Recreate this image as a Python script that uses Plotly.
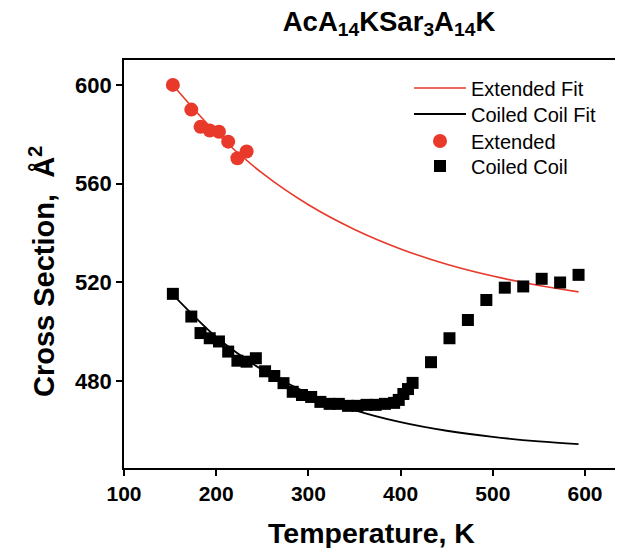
import plotly.graph_objects as go

# Extended (red circles)
ext_T = [153, 173, 183, 193, 203, 213, 223, 233]
ext_CS = [600.0, 590.0, 583.0, 581.5, 581.0, 577.0, 570.3, 573.0]

# Coiled coil (black squares)
cc_T = [153, 173, 183, 193, 203, 213, 223, 233, 243, 253, 263, 273, 283,
        293, 303, 313, 323, 333, 343, 353, 363, 373, 383, 393, 398, 403, 408, 413,
        433, 453, 473, 493, 513, 533, 553, 573, 593]
cc_CS = [515.3, 506.1, 499.4, 497.3, 496.0, 491.9, 488.2, 487.8, 489.2, 483.9, 482.0, 479.1, 475.6,
         474.3, 473.5, 471.5, 470.7, 470.7, 469.9, 469.9, 470.3, 470.3, 470.7, 471.1, 472.3, 474.7, 476.7, 479.2,
         487.6, 497.3, 504.7, 512.8, 517.8, 518.3, 521.4, 519.9, 523.0]

# Fit curves
ext_fit_T = [153, 200, 250, 300, 350, 400, 450, 500, 550, 593]
ext_fit_CS = [600.0, 580.6, 564.2, 551.4, 541.4, 533.5, 527.3, 522.5, 518.7, 516.1]
cc_fit_T = [153, 200, 233, 250, 300, 350, 400, 450, 500, 550, 593]
cc_fit_CS = [515.0, 497.8, 488.6, 484.5, 475.0, 468.2, 463.3, 459.8, 457.3, 455.5, 454.4]

x_ticks = [100, 200, 300, 400, 500, 600]
y_ticks = [480, 520, 560, 600]

RED = "#e8392b"
FONT = "Liberation Sans, Arial, sans-serif"

# page body has an 8px margin: work in figure coordinates (screen - 8)
L, T, B = 116, 52, 460
W, H = 623, 548
PW, PH = W - L, B - T

fig = go.Figure()
fig.add_trace(go.Scatter(x=ext_fit_T, y=ext_fit_CS, mode="lines", name="Extended Fit",
                         line=dict(color=RED, width=1.6, shape="spline"), legend="legend"))
fig.add_trace(go.Scatter(x=cc_fit_T, y=cc_fit_CS, mode="lines", name="Coiled Coil Fit",
                         line=dict(color="black", width=1.8, shape="spline"), legend="legend2"))
fig.add_trace(go.Scatter(x=ext_T, y=ext_CS, mode="markers", name="Extended",
                         marker=dict(color=RED, size=14, symbol="circle"), legend="legend3"))
fig.add_trace(go.Scatter(x=cc_T, y=cc_CS, mode="markers", name="Coiled Coil",
                         marker=dict(color="black", size=12, symbol="square"), legend="legend4"))

row_y = [80, 106, 133, 158]  # legend row centres (figure px)


def leg(yc):
    return dict(x=(401 - L) / PW, y=1 - (yc - T) / PH, xanchor="left", yanchor="middle",
                font=dict(size=20, family=FONT, color="black"),
                bgcolor="rgba(0,0,0,0)", itemwidth=52)


fig.update_layout(
    width=W, height=H,
    margin=dict(l=L, r=0, t=T, b=H - B, autoexpand=False),
    paper_bgcolor="white", plot_bgcolor="white",
    font=dict(family=FONT, color="black"),
    title=dict(text="<b>AcA<sub>14</sub>KSar<sub>3</sub>A<sub>14</sub>K</b>",
               x=381/W, xanchor="center", y=1-13/H, yanchor="middle", yref="container",
               font=dict(size=27.5, family=FONT, color="black")),
    legend=leg(row_y[0]), legend2=leg(row_y[1]), legend3=leg(row_y[2]), legend4=leg(row_y[3]),
    showlegend=True,
    annotations=[
        dict(text="<b>Temperature, K</b>", xref="paper", yref="paper",
             x=(363-L)/PW, y=-(525-B)/PH, xanchor="center", yanchor="middle",
             showarrow=False, font=dict(size=28.5, family=FONT, color="black")),
        dict(text="<b>Cross Section,  Å<sup>2</sup></b>", xref="paper", yref="paper",
             x=-(L-34)/PW, y=1-(264-T)/PH, xanchor="center", yanchor="middle",
             textangle=-90, showarrow=False, font=dict(size=29, family=FONT, color="black")),
    ],
)
fig.update_xaxes(range=[100, 100 + PW/0.922], tickvals=x_ticks, ticktext=[str(v) for v in x_ticks],
                 showline=True, linecolor="black", linewidth=1.6, mirror=True,
                 ticks="outside", ticklen=6, tickwidth=1.6, tickcolor="black",
                 showgrid=False, zeroline=False, automargin=False,
                 tickfont=dict(size=21, family=FONT, weight="bold", color="black"))
fig.update_yaxes(range=[444.7, 610.1], tickvals=y_ticks, ticktext=[str(v) for v in y_ticks],
                 showline=True, linecolor="black", linewidth=1.6, mirror=False,
                 ticks="outside", ticklen=6, tickwidth=1.6, tickcolor="black",
                 showgrid=False, zeroline=False, automargin=False,
                 tickfont=dict(size=22, family=FONT, weight="bold", color="black"))

fig.write_html("out.html")
